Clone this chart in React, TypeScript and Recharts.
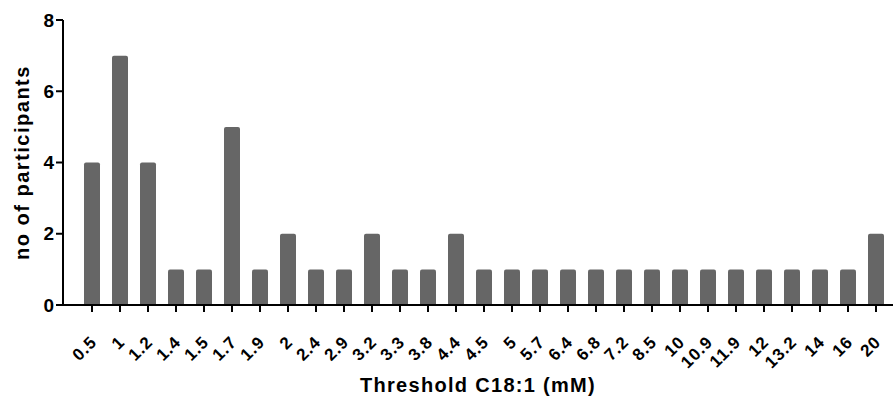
import { BarChart, Bar, XAxis, YAxis } from "recharts";

const thresholds = [
  "0.5", "1", "1.2", "1.4", "1.5", "1.7", "1.9", "2", "2.4", "2.9", "3.2", "3.3", "3.8", "4.4", "4.5",
  "5", "5.7", "6.4", "6.8", "7.2", "8.5", "10", "10.9", "11.9", "12", "13.2", "14", "16", "20",
];
const participants = [4, 7, 4, 1, 1, 5, 1, 2, 1, 1, 2, 1, 1, 2, 1, 1, 1, 1, 1, 1, 1, 1, 1, 1, 1, 1, 1, 1, 2];
const yTicks = [0, 2, 4, 6, 8];

const data = thresholds.map((t, i) => ({ t, n: participants[i] }));

const FONT = "'Liberation Sans', Arial, sans-serif";

function AngledTick(props: any) {
  const { x, y, payload } = props;
  return (
    <g transform={`translate(${x + 6},${y + 29})`}>
      <text
        transform="rotate(-45)"
        textAnchor="end"
        fontFamily={FONT}
        fontWeight="bold"
        fontSize={17}
        letterSpacing={1}
        fill="#000"
      >
        {payload.value}
      </text>
    </g>
  );
}

export default function App() {
  return (
    <div style={{ position: "absolute", left: 0, top: 0, background: "#fff" }}>
      <BarChart
        width={896}
        height={399}
        data={data}
        margin={{ top: 20, right: 3, bottom: 0, left: 0 }}
        barCategoryGap={0}
      >
        <XAxis
          dataKey="t"
          interval={0}
          height={94}
          padding={{ left: 15, right: 3 }}
          axisLine={{ stroke: "#000", strokeWidth: 2 }}
          tickLine={{ stroke: "#000", strokeWidth: 2 }}
          tickSize={7}
          tick={<AngledTick />}
          label={{
            value: "Threshold C18:1 (mM)",
            position: "insideBottom",
            offset: 7,
            style: { fontFamily: FONT, fontWeight: "bold", fontSize: 20, letterSpacing: 1.3, fill: "#000" },
          }}
        />
        <YAxis
          width={63}
          domain={[0, 8]}
          ticks={yTicks}
          interval={0}
          axisLine={{ stroke: "#000", strokeWidth: 2 }}
          tickLine={{ stroke: "#000", strokeWidth: 2 }}
          tickSize={7}
          tick={{ fontFamily: FONT, fontWeight: "bold", fontSize: 19, fill: "#000" }}
          label={{
            value: "no of participants",
            angle: -90,
            position: "insideLeft",
            offset: 22,
            style: { textAnchor: "middle", fontFamily: FONT, fontWeight: "bold", fontSize: 20, letterSpacing: 1.5, fill: "#000" },
          }}
        />
        <Bar dataKey="n" fill="#666666" barSize={16} radius={[2, 2, 0, 0]} isAnimationActive={false} />
      </BarChart>
    </div>
  );
}
